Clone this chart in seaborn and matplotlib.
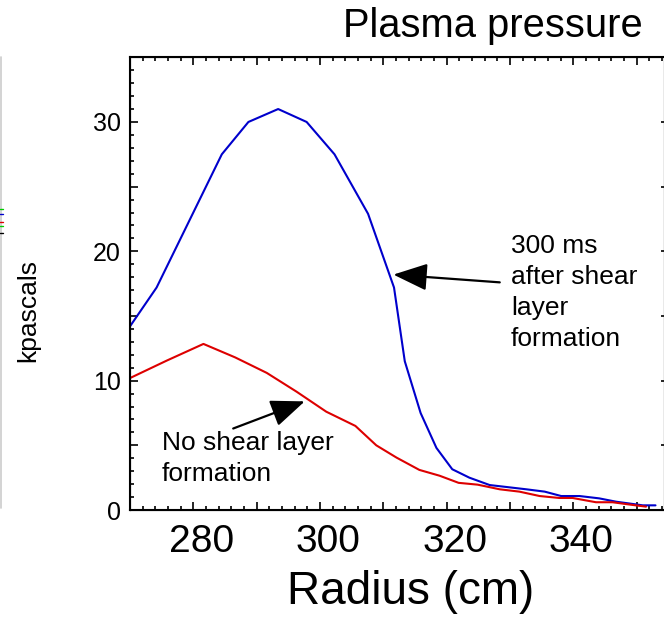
import numpy as np
import pandas as pd
import seaborn as sns
import matplotlib
matplotlib.use("Agg")
import matplotlib.pyplot as plt
from matplotlib.ticker import MultipleLocator, FuncFormatter
from matplotlib.transforms import ScaledTranslation
from matplotlib.lines import Line2D

# ---- data ----
radius_shear = [270.0, 274.2, 284.5, 288.7, 293.4, 297.9, 302.3, 307.6, 311.7,
                313.4, 315.9, 318.4, 320.9, 323.6, 326.8, 332.6, 335.5, 338.1,
                341.0, 344.1, 346.8, 351.0, 353.0]
pressure_shear = [14.2, 17.2, 27.5, 30.0, 31.0, 30.0, 27.5, 22.9, 17.2,
                  11.5, 7.5, 4.8, 3.15, 2.5, 1.93, 1.6, 1.42, 1.08,
                  1.08, 0.9, 0.64, 0.36, 0.36]
radius_noshear = [270.0, 275.8, 281.6, 286.6, 291.6, 296.3, 301.0, 305.6, 308.9,
                  312.1, 315.7, 318.9, 321.9, 324.9, 328.4, 331.5, 334.7, 337.8,
                  339.9, 343.6, 346.2, 349.4, 351.5]
pressure_noshear = [10.2, 11.55, 12.84, 11.8, 10.6, 9.15, 7.6, 6.5, 5.0,
                    4.05, 3.1, 2.65, 2.1, 1.96, 1.6, 1.42, 1.08, 0.93,
                    0.93, 0.6, 0.6, 0.39, 0.26]
series_names = ["300 ms after shear layer formation", "No shear layer formation"]
x_tick_labels = [280, 300, 320, 340]
y_tick_labels = [0, 10, 20, 30]

df = pd.concat([
    pd.DataFrame({"Radius": radius_shear, "Pressure": pressure_shear, "Series": series_names[0]}),
    pd.DataFrame({"Radius": radius_noshear, "Pressure": pressure_noshear, "Series": series_names[1]}),
])

sns.set_style("ticks")
plt.rcParams["font.family"] = ["Liberation Sans", "DejaVu Sans"]
plt.rcParams["text.color"] = "black"
plt.rcParams["axes.labelcolor"] = "black"
plt.rcParams["xtick.color"] = "black"
plt.rcParams["ytick.color"] = "black"
plt.rcParams["axes.edgecolor"] = "black"

W, H = 664, 621
fig = plt.figure(figsize=(W / 100, H / 100), dpi=100)
L, R, T, B = 130, 665, 57.3, 510
ax = fig.add_axes([L / W, 1 - B / H, (R - L) / W, (B - T) / H])

palette = {series_names[0]: "#0000cc", series_names[1]: "#dd0000"}
sns.lineplot(data=df, x="Radius", y="Pressure", hue="Series", palette=palette,
             sort=False, estimator=None, linewidth=1.5, legend=False, ax=ax)

ax.set_xlim(270, 354.5)
ax.set_ylim(0, 35)
ax.set_xlabel("")
ax.set_ylabel("")

for s in ax.spines.values():
    s.set_visible(True)
    s.set_linewidth(1.5)
    s.set_color("black")

ax.xaxis.set_major_locator(MultipleLocator(10))
ax.xaxis.set_minor_locator(MultipleLocator(2))
ax.yaxis.set_major_locator(MultipleLocator(5))
ax.yaxis.set_minor_locator(MultipleLocator(1))
ax.xaxis.set_major_formatter(FuncFormatter(
    lambda v, p: f"{int(round(v))}" if int(round(v)) in x_tick_labels else ""))
ax.yaxis.set_major_formatter(FuncFormatter(
    lambda v, p: f"{int(round(v))}" if int(round(v)) in y_tick_labels else ""))

ax.tick_params(axis="both", which="both", direction="in", top=True, right=False,
               color="black", labelcolor="black", width=1.2)
ax.tick_params(axis="x", which="major", length=5.5, labelsize=28, pad=10)
ax.tick_params(axis="x", which="minor", length=3)
ax.tick_params(axis="y", which="major", length=6, labelsize=18, pad=6.5)
ax.tick_params(axis="y", which="minor", length=3)

ax2 = ax.twinx()
ax2.set_ylim(0, 35)
ax2.yaxis.set_major_locator(MultipleLocator(5))
ax2.yaxis.set_minor_locator(MultipleLocator(100))
ax2.tick_params(axis="y", which="major", direction="in", length=3, width=1.2,
                labelright=False, right=True, color="black")
ax2.spines["right"].set_linewidth(1.5)

for lab in ax.get_xticklabels():
    lab.set_transform(lab.get_transform() + ScaledTranslation(8 / 100, 0, fig.dpi_scale_trans))

# annotations
arrowprops = dict(arrowstyle="-|>,head_length=1.05,head_width=0.42",
                  mutation_scale=20, lw=1.6, color="black", shrinkA=0, shrinkB=0)
ax.annotate("", xy=(311.6, 18.2), xytext=(328.4, 17.6), arrowprops=arrowprops)
ax.annotate("", xy=(297.6, 8.4), xytext=(286.3, 6.3), arrowprops=arrowprops)

fig.text(511 / W, 1 - 234 / H, "300 ms\nafter shear\nlayer\nformation",
         ha="left", va="top", fontsize=19, linespacing=1.37, color="black")
fig.text(162 / W, 1 - 431 / H, "No shear layer\nformation",
         ha="left", va="top", fontsize=19, linespacing=1.37, color="black")

fig.text(493 / W, 1 - 37 / H, "Plasma pressure", ha="center", va="baseline",
         fontsize=28.7, color="black")
fig.text(411 / W, 1 - 592 / H, "Radius (cm)", ha="center", va="center",
         fontsize=33, color="black")
fig.text(28 / W, 1 - 310 / H, "kpascals", ha="center", va="center",
         rotation=90, fontsize=19, color="black")

# cropped-edge artefacts at the left border
fig.add_artist(Line2D([0.5 / W, 0.5 / W], [1 - 57 / H, 1 - 508 / H],
                      color="#cccccc", lw=1.2))
for yy, cc in [(209, "#00cc00"), (214, "#0000cc"), (222, "#dd0000"), (226, "#00cc00"), (233, "#000000")]:
    fig.add_artist(Line2D([0, 3 / W], [1 - yy / H, 1 - yy / H], color=cc, lw=1))

fig.savefig("out.png", dpi=100)
